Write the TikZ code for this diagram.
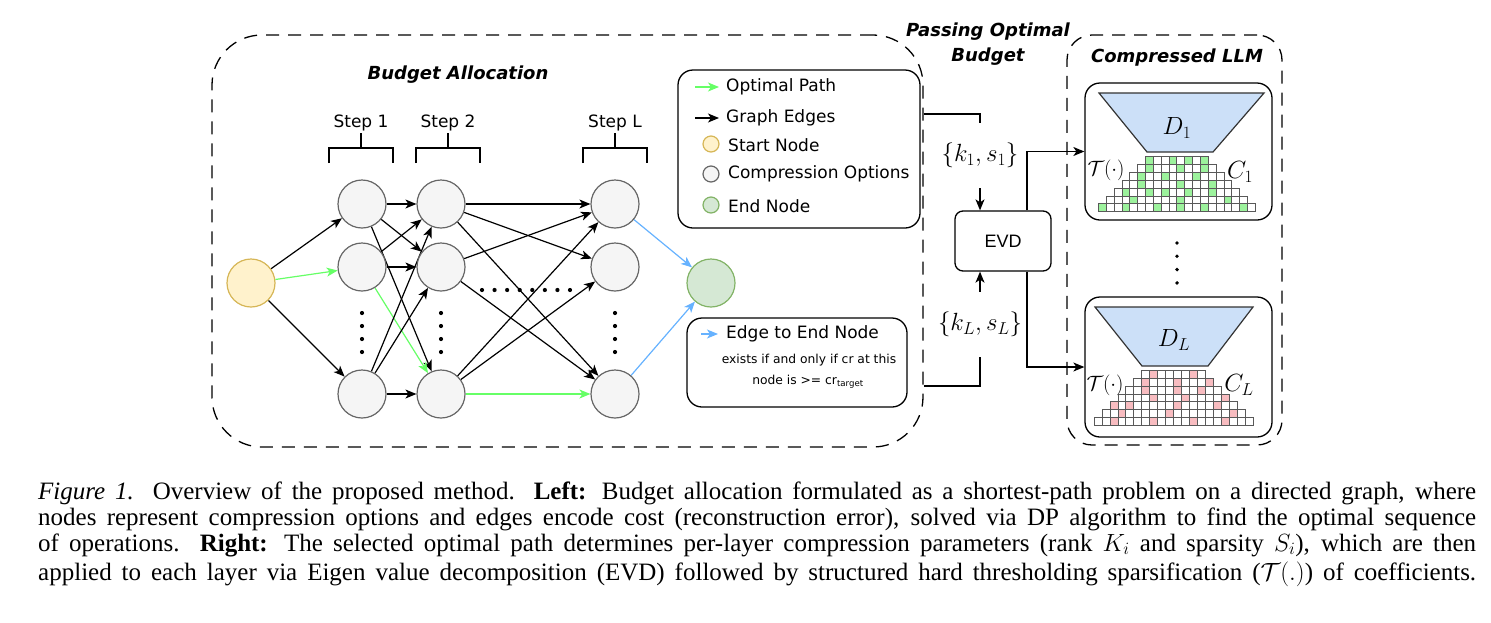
\documentclass[tikz,border=0pt]{standalone}
\usepackage{fontspec}
\setmainfont{Liberation Serif}
\newfontfamily\cf{DejaVu Sans}
\newfontfamily\hv{Liberation Sans}
\usetikzlibrary{arrows.meta,backgrounds}
\definecolor{optgray}{HTML}{F5F5F5}
\definecolor{optstroke}{HTML}{666666}
\definecolor{startfill}{HTML}{FFF2CC}
\definecolor{startstroke}{HTML}{D6B656}
\definecolor{endfill}{HTML}{D5E8D4}
\definecolor{endstroke}{HTML}{82B366}
\definecolor{optgreen}{HTML}{66FF66}
\definecolor{edgeblue}{HTML}{66B2FF}
\definecolor{trapfill}{HTML}{CCE0F8}
\definecolor{cellgreen}{HTML}{9CF29C}
\definecolor{cellred}{HTML}{F8BCC0}
\begin{document}
\begin{tikzpicture}[x=1pt,y=-1pt,
  >={Stealth[length=11pt,width=9pt,inset=3pt]},
  opt/.style={circle,draw=optstroke,fill=optgray,line width=1.2pt,minimum size=48pt,inner sep=0pt},
  startn/.style={opt,draw=startstroke,fill=startfill},
  endn/.style={opt,draw=endstroke,fill=endfill},
  edge/.style={->,line width=1.2pt,black},
  gedge/.style={edge,optgreen},
  bedge/.style={edge,edgeblue},
  dbox/.style={draw,line width=1.3pt,dash pattern=on 13pt off 9pt,inner sep=0pt},
  lbox/.style={draw,line width=1.3pt,rounded corners=15pt,inner sep=0pt},
  lbl/.style={font=\cf\fontsize{17}{20}\selectfont,inner sep=0pt},
  ttl/.style={font=\cf\bfseries\itshape\fontsize{18}{25}\selectfont,inner sep=0pt,align=center},
  conn/.style={line width=1.2pt},
  klabel/.style={fill=white,inner xsep=1pt,minimum height=65pt,font=\fontsize{25}{26}\selectfont},
  mlabel/.style={inner sep=0pt,font=\fontsize{24}{26}\selectfont},
  tlabel/.style={inner sep=0pt,font=\fontsize{22}{24}\selectfont},
  captxt/.style={anchor=base west,inner sep=0pt,font=\fontsize{25}{26}\selectfont},
  trap/.style={draw=black!80,fill=trapfill,line width=1.2pt},
  cellline/.style={draw=black!65,line width=0.7pt}
]
\useasboundingbox (0,0) rectangle (1491,622);

% ---------- outer dashed boxes ----------
\node[dbox,rounded corners=50pt,minimum width=711pt,minimum height=412pt] (ba) at (567.5,241) {};
\node[dbox,rounded corners=25pt,minimum width=215pt,minimum height=410pt] (cb) at (1174.5,240) {};

% ---------- titles ----------
\node[ttl] (tba) at (458,75) {Budget Allocation};
\node[ttl] (tpo) at (988,44.5) {Passing Optimal\\Budget};
\node[ttl] (tcl) at (1177,58) {Compressed LLM};

% ---------- steps ----------
\foreach \n/\x/\t in {s1/361/Step 1,s2/448/Step 2,sL/615/Step L}{
  \node[lbl] (\n) at (\x,123) {\t};
  \draw[line width=1.8pt] (\x-32,163) -- (\x-32,148) -- (\x+32,148) -- (\x+32,163);
  \draw[line width=1.8pt] (\x,148) -- (\x,133);
}

% ---------- graph nodes ----------
\node[startn] (s) at (251,283) {};
\node[opt] (a1) at (362,204) {};
\node[opt] (a2) at (362,267) {};
\node[opt] (a4) at (362,394) {};
\node[opt] (b1) at (441,204) {};
\node[opt] (b2) at (441,267) {};
\node[opt] (b4) at (441,394) {};
\node[opt] (c1) at (615,204) {};
\node[opt] (c2) at (615,267) {};
\node[opt] (c4) at (615,394) {};
\node[endn] (e) at (711,283) {};

\begin{scope}[on background layer]
  \draw[edge] (s) -- (a1);
  \draw[gedge] (s) -- (a2);
  \draw[edge] (s) -- (a4);
  \draw[edge] (a1) -- (b1);
  \draw[edge] (a1) -- (b2);
  \draw[edge] (a1) -- (b4);
  \draw[edge] (a2) -- (b1);
  \draw[edge] (a2) -- (b2);
  \draw[gedge] (a2) -- (b4);
  \draw[edge] (a4) -- (b1);
  \draw[edge] (a4) -- (b2);
  \draw[edge] (a4) -- (b4);
  \draw[edge] (b1) -- (c1);
  \draw[edge] (b1) -- (c2);
  \draw[edge] (b1) -- (c4);
  \draw[edge] (b2) -- (c1);
  \draw[edge] (b2) -- (c4);
  \draw[edge] (b4) -- (c1);
  \draw[edge] (b4) -- (c2);
  \draw[gedge] (b4) -- (c4);
  \draw[bedge] (c1) -- (e);
  \draw[bedge] (c4) -- (e);
\end{scope}

% dots
\foreach \x in {362,441,615}{
  \foreach \i in {0,...,3} \fill (\x,313+\i*13) circle (2.1pt);
}
\foreach \i in {0,...,7} \fill (482+\i*12.57,290) circle (2.1pt);

% ---------- legend 1 ----------
\node[lbox,minimum width=242pt,minimum height=158pt] (lg1) at (799,149) {};
\coordinate (la1) at (695,87); \coordinate (lb1) at (719,87);
\coordinate (la2) at (695,118); \coordinate (lb2) at (719,118);
\draw[gedge] (la1) -- (lb1);
\draw[edge] (la2) -- (lb2);
\node[lbl,anchor=west] (t1) at (726,87) {Optimal Path};
\node[lbl,anchor=west] (t2) at (726,118) {Graph Edges};
\node[startn,minimum size=16pt] (ls) at (711,144) {};
\node[lbl,anchor=west] (t3) at (728,145) {Start Node};
\node[opt,minimum size=16pt] (lo) at (711,174) {};
\node[lbl,anchor=west] (t4) at (728,174) {Compression Options};
\node[endn,minimum size=16pt] (le) at (711,205) {};
\node[lbl,anchor=west] (t5) at (728,206) {End Node};

% ---------- legend 2 ----------
\node[lbox,minimum width=220pt,minimum height=89pt] (lg2) at (797,362.5) {};
\coordinate (la3) at (701,334); \coordinate (lb3) at (718,334);
\draw[bedge] (la3) -- (lb3);
\node[lbl,anchor=west] (t6) at (726,334) {Edge to End Node};
\node[lbl,font=\cf\fontsize{12.3}{15}\selectfont] (t7) at (809,360) {exists if and only if cr at this};
\node[lbl,font=\cf\fontsize{12.3}{15}\selectfont] (t8) at (808,382) {node is >= cr\textsubscript{target}};

% ---------- EVD ----------
\node[draw,line width=1.3pt,rounded corners=8pt,minimum width=96pt,minimum height=60pt,font=\hv\fontsize{18}{20}\selectfont] (evd) at (1003,241) {EVD};
\coordinate (k1t) at (980,114);
\coordinate (kLb) at (980,386);
\draw[conn,->] (ba.east |- k1t) -| (evd.north -| k1t);
\draw[conn,->] (ba.east |- kLb) -| (evd.south -| kLb);
\node[klabel] (k1) at (980,155.5) {$\{k_1,s_1\}$};
\node[klabel] (kL) at (980,324.5) {$\{k_L,s_L\}$};

% ---------- compressed layers ----------
\node[lbox,minimum width=187pt,minimum height=137pt] (m1) at (1178.5,151.5) {};
\node[lbox,minimum width=187pt,minimum height=140pt] (mL) at (1178.5,367) {};
\draw[conn,->] ([xshift=24pt]evd.north) |- (m1.west);
\draw[conn,->] ([xshift=24pt]evd.south) |- (mL.west);

\draw[trap] (1099,93) -- (1264,93) -- (1213,152) -- (1147,152) -- cycle;
\node[mlabel] (d1) at (1177,128) {$D_1$};
\draw[trap] (1095,307) -- (1253,307) -- (1208,366) -- (1142,366) -- cycle;
\node[mlabel] (dL) at (1174,340) {$D_L$};

% grid C1
\foreach \j/\r in {6/0,9/0,11/0,13/0, 6/1,10/1,13/1, 5/2,8/2,12/2, 5/3,10/3,14/3,
  3/4,6/4,8/4,11/4,14/4, 4/5,10/5,16/5, 0/6,3/6,7/6,10/6,13/6,18/6}
  \fill[cellgreen] (1098.3+\j*7.85,156.7+\r*7.85) rectangle ++(7.85,7.85);
\foreach \r in {0,...,6}{
  \pgfmathtruncatemacro\ja{6-\r}
  \pgfmathtruncatemacro\jb{13+\r}
  \foreach \j in {\ja,...,\jb}
    \draw[cellline] (1098.3+\j*7.85,156.7+\r*7.85) rectangle ++(7.85,7.85);
}
% grid CL
\foreach \j/\r in {7/0,12/0, 6/1,10/1,14/1, 6/2,10/2,13/2, 7/3,11/3,16/3,
  2/4,4/4,10/4,15/4, 3/5,9/5,17/5, 2/6,7/6,12/6,16/6}
  \fill[cellred] (1094+\j*7.95,370+\r*7.95) rectangle ++(7.95,7.95);
\foreach \r in {0,...,6}{
  \pgfmathtruncatemacro\ja{6-\r}
  \pgfmathtruncatemacro\jb{13+\r}
  \foreach \j in {\ja,...,\jb}
    \draw[cellline] (1094+\j*7.95,370+\r*7.95) rectangle ++(7.95,7.95);
}

\node[tlabel] (tt1) at (1106,170) {$\mathcal{T}(\cdot)$};
\node[mlabel] (cc1) at (1240,172) {$C_1$};
\node[tlabel] (ttL) at (1105,385) {$\mathcal{T}(\cdot)$};
\node[mlabel] (ccL) at (1239,385) {$C_L$};

\foreach \i in {0,...,3} \fill (1177,243+\i*13.3) circle (1.9pt);

% ---------- caption ----------
\node[captxt] (cap1) at (38,499.5) {\makebox[1438pt][s]{\textit{Figure 1.} Overview of the proposed method. \textbf{Left:} Budget allocation formulated as a shortest-path problem on a directed graph, where}};
\node[captxt] (cap2) at (38,525.5) {\makebox[1438pt][s]{nodes represent compression options and edges encode cost (reconstruction error), solved via DP algorithm to find the optimal sequence}};
\node[captxt] (cap3) at (38,551) {\makebox[1438pt][s]{of operations. \textbf{Right:} The selected optimal path determines per-layer compression parameters (rank $K_i$ and sparsity $S_i$), which are then}};
\node[captxt] (cap4) at (38,580) {\makebox[1438pt][s]{applied to each layer via Eigen value decomposition (EVD) followed by structured hard thresholding sparsification ($\mathcal{T}(.)$) of coefficients.}};
\end{tikzpicture}
\end{document}
